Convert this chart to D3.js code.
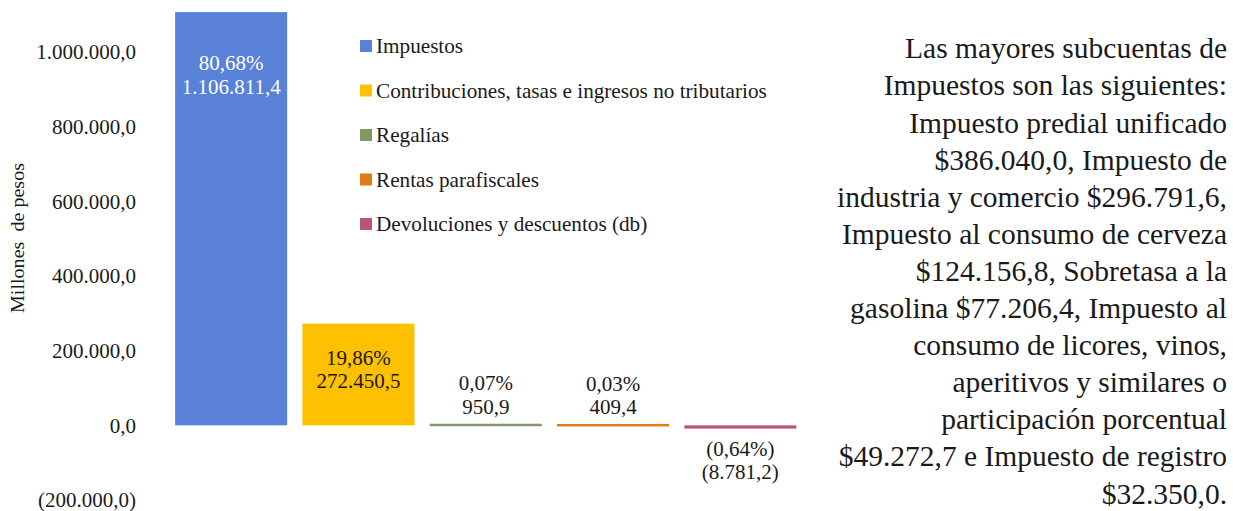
<!DOCTYPE html>
<html>
<head>
<meta charset="utf-8">
<script src="https://cdn.jsdelivr.net/npm/d3@7"></script>
<style>
  html, body { margin: 0; padding: 0; background: #fff; }
  svg { display: block; }
  text { font-family: "Liberation Serif", "Times New Roman", serif; fill: #1a1a1a; }
</style>
</head>
<body>
<svg id="chart" width="1233" height="511"></svg>
<script>
// ---- Data ----
const categories = [
  "Impuestos",
  "Contribuciones, tasas e ingresos no tributarios",
  "Regalías",
  "Rentas parafiscales",
  "Devoluciones y descuentos (db)"
];
const values = [1106811.4, 272450.5, 950.9, 409.4, -8781.2];
const percents = [80.68, 19.86, 0.07, 0.03, -0.64];
const colors = ["#5981D7", "#FFC000", "#7E9964", "#E07C15", "#BC557C"];
const tickValues = [-200000, 0, 200000, 400000, 600000, 800000, 1000000];
const yTitle = "Millones  de pesos";
const noteLines = [
  "Las mayores subcuentas de",
  "Impuestos son las siguientes:",
  "Impuesto predial unificado",
  "$386.040,0, Impuesto de",
  "industria y comercio $296.791,6,",
  "Impuesto al consumo de cerveza",
  "$124.156,8, Sobretasa a la",
  "gasolina $77.206,4, Impuesto al",
  "consumo de licores, vinos,",
  "aperitivos y similares o",
  "participación porcentual",
  "$49.272,7 e Impuesto de registro",
  "$32.350,0."
];

// ---- Formatting (Spanish locale) ----
const loc = d3.formatLocale({ decimal: ",", thousands: ".", grouping: [3], currency: ["$", ""] });
const f1 = loc.format(",.1f");
const f2 = loc.format(",.2f");
const fmtNum = v => v < 0 ? "(" + f1(-v) + ")" : f1(v);
const fmtPct = v => v < 0 ? "(" + f2(-v) + "%)" : f2(v) + "%";

// ---- Scales ----
const svg = d3.select("#chart");
const y = d3.scaleLinear().domain([-200000, 1000000]).range([500, 52]);
const x = d3.scaleBand().domain(categories).range([167.5, 804]).paddingInner(0.12).paddingOuter(0.06);

// ---- Y axis ----
const yAxis = d3.axisLeft(y).tickValues(tickValues).tickFormat(fmtNum).tickSize(0).tickPadding(0);
const gy = svg.append("g").attr("transform", "translate(136,0)").call(yAxis);
gy.select(".domain").remove();
gy.selectAll("text").style("font-family", '"Liberation Serif", serif').style("font-size", "21px").attr("fill", "#1a1a1a");

svg.append("text")
  .attr("transform", "translate(24,238) rotate(-90)")
  .attr("text-anchor", "middle")
  .style("font-size", "18px")
  .style("white-space", "pre")
  .attr("textLength", 150)
  .attr("lengthAdjust", "spacingAndGlyphs")
  .text(yTitle);

// ---- Bars ----
const data = categories.map((c, i) => ({ c, v: values[i], p: percents[i], color: colors[i], i }));

svg.append("g").selectAll("rect").data(data).join("rect")
  .attr("x", d => x(d.c))
  .attr("width", x.bandwidth())
  .attr("y", d => Math.min(y(d.v), y(0)) - (Math.abs(y(d.v) - y(0)) < 2.5 ? 1.25 : 0))
  .attr("height", d => Math.max(Math.abs(y(d.v) - y(0)), 2.5))
  .attr("fill", d => d.color);

// ---- Data labels ----
const lab = svg.append("g");
data.forEach(d => {
  const cx = x(d.c) + x.bandwidth() / 2;
  const big = d.v > 500000, mid = d.v > 100000 && !big;
  let y1;
  if (big) y1 = y(d.v) + 51;
  else if (mid) y1 = y(d.v) + 34;
  else if (d.v >= 0) y1 = y(d.v) - 42;
  else y1 = y(d.v) + 20;
  const fill = big ? "#ffffff" : "#1a1a1a";
  [fmtPct(d.p), fmtNum(d.v)].forEach((t, k) => {
    lab.append("text")
      .attr("x", cx).attr("y", y1 + k * 23.5)
      .attr("dy", "0.35em")
      .attr("text-anchor", "middle")
      .style("font-size", "21px")
      .style("fill", fill)
      .text(t);
  });
});

// ---- Legend ----
const lg = svg.append("g").attr("transform", "translate(360,46)");
const rows = lg.selectAll("g").data(data).join("g").attr("transform", d => `translate(0,${d.i * 44.5})`);
rows.append("rect").attr("x", 0).attr("y", -6).attr("width", 12).attr("height", 12).attr("fill", d => d.color);
rows.append("text").attr("x", 16).attr("dy", "0.35em").style("font-size", "21.2px").text(d => d.c);

// ---- Note text ----
const note = svg.append("text").attr("text-anchor", "end").style("font-size", "29.5px");
noteLines.forEach((t, k) => {
  note.append("tspan").attr("x", 1227).attr("y", 48 + k * 37.1).attr("dy", "0.35em").text(t);
});
</script>
</body>
</html>
